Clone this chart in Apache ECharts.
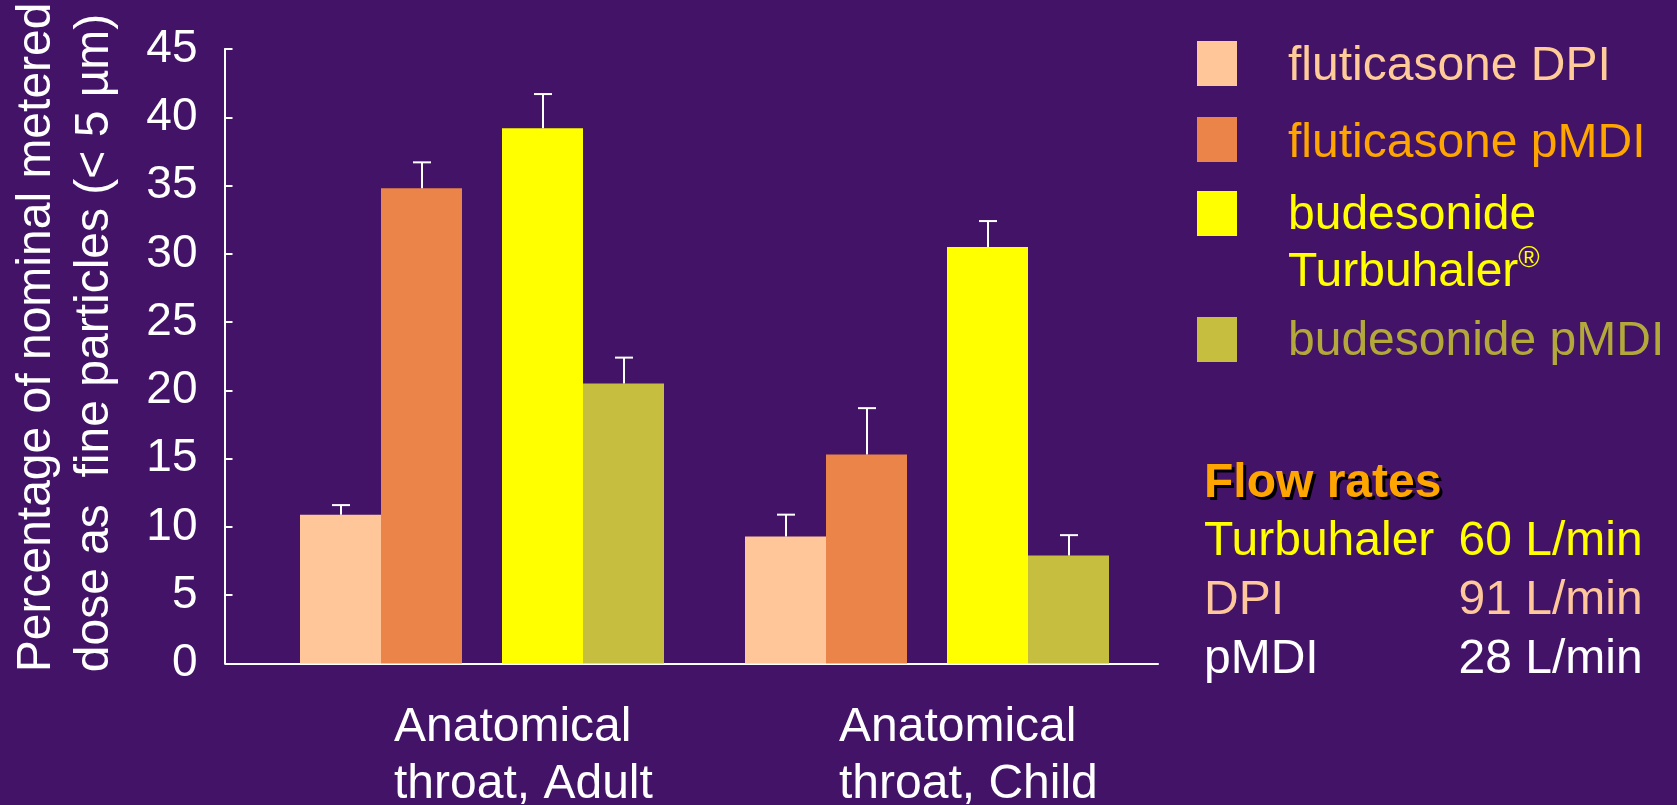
<!DOCTYPE html>
<html>
<head>
<meta charset="utf-8">
<script src="https://cdn.jsdelivr.net/npm/echarts@6/dist/echarts.min.js"></script>
<style>
html,body{margin:0;padding:0;background:#431367;}
#chart{width:1677px;height:805px;}
</style>
</head>
<body>
<div id="chart"></div>
<script>
// ---------- data ----------
const categories = ['Anatomical\nthroat, Adult', 'Anatomical\nthroat, Child'];
const seriesNames = ['fluticasone DPI', 'fluticasone pMDI', 'budesonide Turbuhaler®', 'budesonide pMDI'];
const fluticasoneDPI = [10.9, 9.3];
const fluticasonePMDI = [34.8, 15.3];
const budesonideTurbuhaler = [39.2, 30.5];
const budesonidePMDI = [20.5, 7.9];
// upper error (SD) for each bar
const fluticasoneDPIErr = [0.7, 1.6];
const fluticasonePMDIErr = [1.9, 3.4];
const budesonideTurbuhalerErr = [2.5, 1.9];
const budesonidePMDIErr = [1.9, 1.5];
const yMin = 0, yMax = 45, yStep = 5;
const flowTitle = 'Flow rates';
const flowLabels = ['Turbuhaler', 'DPI', 'pMDI'];
const flowValues = ['60 L/min', '91 L/min', '28 L/min'];
const yAxisTitle = ['Percentage of nominal metered', 'dose as  fine particles (< 5 µm)'];

// ---------- styles ----------
const FONT = '"Liberation Sans", Arial, Helvetica, sans-serif';
const BG = '#431367';
const barColors = ['#FFC699', '#EA8449', '#FFFF00', '#C6BE3E'];
const legendTextColors = ['#FFCC99', '#FFA500', '#FFFF00', '#B3A93A'];
const flowColors = ['#FFFF00', '#FFC89B', '#FFFFFF'];
const BAR_W = 81, SPACER_W = 40;
const barOffsets = [-(BAR_W * 1.5 + SPACER_W / 2), -(BAR_W / 2 + SPACER_W / 2), (BAR_W / 2 + SPACER_W / 2), (BAR_W * 1.5 + SPACER_W / 2)];

const values = [fluticasoneDPI, fluticasonePMDI, budesonideTurbuhaler, budesonidePMDI];
const errors = [fluticasoneDPIErr, fluticasonePMDIErr, budesonideTurbuhalerErr, budesonidePMDIErr];

const chart = echarts.init(document.getElementById('chart'), null, {renderer: 'canvas'});

function barSeries(i) {
  return {
    type: 'bar', name: seriesNames[i], data: values[i],
    barWidth: BAR_W, barGap: '0%',
    itemStyle: {color: barColors[i]},
    xAxisIndex: 0, yAxisIndex: 0, z: 2,
    animation: false
  };
}

const errData = [];
values.forEach((arr, s) => arr.forEach((v, c) => errData.push([c, v, errors[s][c], s])));

const series = [
  barSeries(0), barSeries(1),
  {type: 'bar', name: 'spacer', data: ['-', '-'], barWidth: SPACER_W, barGap: '0%', xAxisIndex: 0, yAxisIndex: 0, silent: true, animation: false},
  barSeries(2), barSeries(3),
  {
    type: 'custom', name: 'error', data: errData, xAxisIndex: 0, yAxisIndex: 0, z: 5, animation: false,
    renderItem: function (params, api) {
      const base = api.coord([api.value(0), api.value(1)]);
      const top = api.coord([api.value(0), api.value(1) + api.value(2)]);
      const x = Math.round(base[0] + barOffsets[api.value(3)]);
      const st = {stroke: '#FFFFFF', lineWidth: 2};
      return {type: 'group', children: [
        {type: 'line', shape: {x1: x, y1: base[1], x2: x, y2: top[1]}, style: st},
        {type: 'line', shape: {x1: x - 9, y1: top[1], x2: x + 9, y2: top[1]}, style: st}
      ]};
    }
  }
];

// legend & flow table as graphic text
const legendRectTops = [41, 117, 191, 317];
const legendTextMid = [66.5, 143.5, 215.5, 341.5];
const graphics = [];
seriesNames.forEach((n, i) => {
  graphics.push({type: 'rect', left: 1197, top: legendRectTops[i], shape: {width: 40, height: 45}, style: {fill: barColors[i]}});
  let txt;
  if (i === 2) txt = '{n|budesonide}\n{n|Turbuhaler}{s|®}';
  else txt = '{n|' + n + '}';
  graphics.push({
    type: 'text', x: 1288, y: legendTextMid[i] - 28.5,
    style: {
      text: txt, fill: legendTextColors[i], font: '48px ' + FONT, verticalAlign: 'top', align: 'left',
      rich: {
        n: {fontSize: 48, fontFamily: FONT, lineHeight: 57, fill: legendTextColors[i], color: legendTextColors[i]},
        s: {fontSize: 29, fontFamily: FONT, lineHeight: 45, verticalAlign: 'top', fill: legendTextColors[i], color: legendTextColors[i]}
      }
    }
  });
});
// shadow copy then main title text
graphics.push({
  type: 'text', x: 1207, y: 487, style: {
    text: flowTitle, fill: '#000000', font: 'bold 48px ' + FONT, verticalAlign: 'middle', align: 'left'
  }
});
graphics.push({
  type: 'text', x: 1204, y: 484, style: {
    text: flowTitle, fill: '#FFA500', font: 'bold 48px ' + FONT, verticalAlign: 'middle', align: 'left'
  }
});
const flowMid = [542, 601, 659.5];
flowLabels.forEach((l, i) => {
  graphics.push({type: 'text', x: 1204, y: flowMid[i], style: {text: l, fill: flowColors[i], font: '48px ' + FONT, verticalAlign: 'middle', align: 'left'}});
  graphics.push({type: 'text', x: 1458.6, y: flowMid[i], style: {text: flowValues[i], fill: flowColors[i], font: '48px ' + FONT, verticalAlign: 'middle', align: 'left'}});
});

const option = {
  backgroundColor: BG,
  animation: false,
  textStyle: {fontFamily: FONT},
  grid: [
    {left: 259.5, width: 890, top: 49, height: 614.5, containLabel: false, outerBoundsMode: 'none'},
    {left: 226.5, width: 931.5, top: 49, height: 614.5, containLabel: false, outerBoundsMode: 'none'}
  ],
  xAxis: [
    {
      type: 'category', data: categories, gridIndex: 0,
      axisLine: {show: false}, axisTick: {show: false}, splitLine: {show: false},
      axisLabel: {
        interval: 0, margin: 36, padding: [0, 0, 0, 84],
        formatter: v => v.split('\n').map(s => '{c|' + s + '}').join('\n'),
        rich: {c: {width: 260, align: 'left', fontSize: 48, lineHeight: 57, color: '#FFFFFF', fontFamily: FONT}}
      }
    },
    {
      type: 'value', gridIndex: 1, min: 0, max: 1,
      axisLine: {show: true, onZero: false, lineStyle: {color: '#FFFFFF', width: 2}},
      axisTick: {show: false}, axisLabel: {show: false}, splitLine: {show: false}
    }
  ],
  yAxis: [
    {
      type: 'value', gridIndex: 0, min: yMin, max: yMax, interval: yStep, offset: 35,
      axisLine: {show: true, lineStyle: {color: '#FFFFFF', width: 2}},
      axisTick: {show: true, inside: true, length: 8, lineStyle: {color: '#FFFFFF', width: 2}},
      axisLabel: {color: '#FFFFFF', fontSize: 46, margin: 27, fontFamily: FONT},
      splitLine: {show: false},
      name: yAxisTitle.map(s => '{t|' + s + '}').join('\n'),
      nameLocation: 'middle', nameRotate: 90, nameGap: 101,
      nameTextStyle: {
        padding: [0, 0, 0, 33],
        rich: {t: {width: 665, align: 'left', fontSize: 48, lineHeight: 58, color: '#FFFFFF', fontFamily: FONT}}
      }
    },
    {type: 'value', gridIndex: 1, show: false, min: 0, max: 1}
  ],
  series: series,
  graphic: graphics
};
chart.setOption(option);
</script>
</body>
</html>
